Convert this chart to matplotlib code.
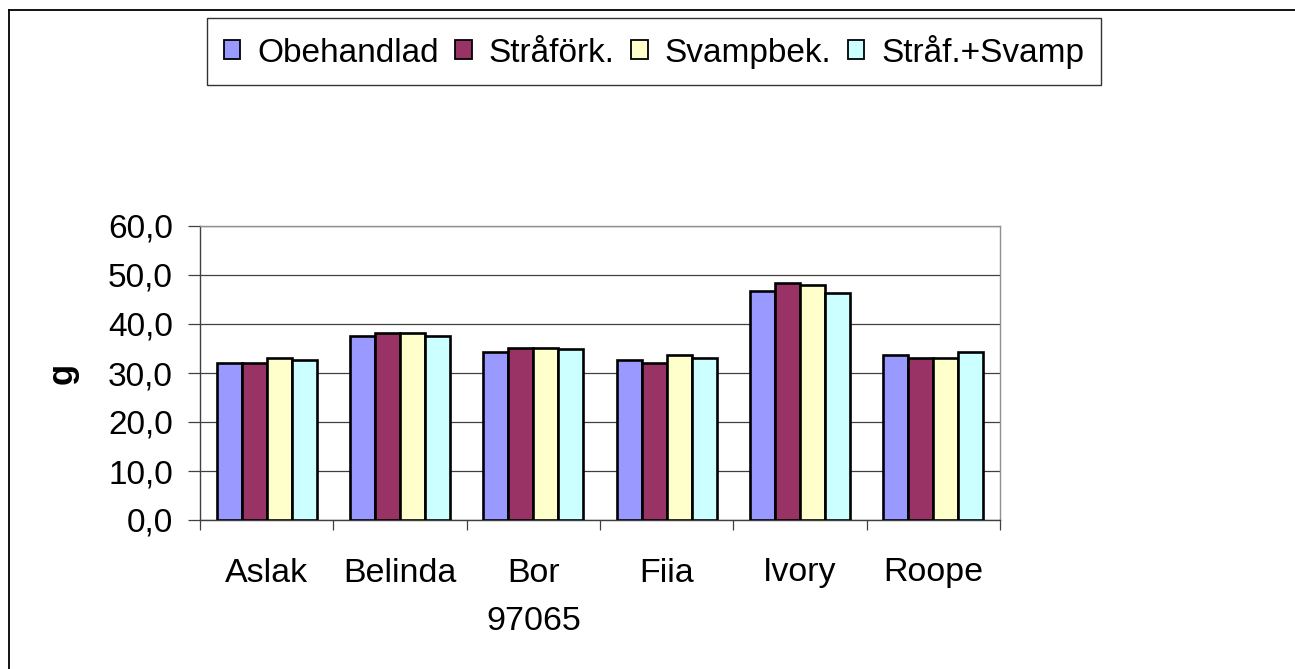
import numpy as np
import matplotlib
matplotlib.use("Agg")
import matplotlib.pyplot as plt
from matplotlib.lines import Line2D
from matplotlib.ticker import FuncFormatter, MultipleLocator

plt.rcParams["font.family"] = ["Liberation Sans", "DejaVu Sans"]

categories = ["Aslak", "Belinda", "Bor\n97065", "Fiia", "Ivory", "Roope"]
series_names = ["Obehandlad", "Stråförk.", "Svampbek.", "Stråf.+Svamp"]
obehandlad = [32.0, 37.5, 34.2, 32.7, 46.7, 33.6]
strafork = [32.0, 38.1, 35.2, 32.0, 48.4, 33.1]
svampbek = [33.1, 38.1, 35.2, 33.6, 47.9, 33.1]
straf_svamp = [32.7, 37.5, 34.8, 33.1, 46.3, 34.2]

colors = ["#9999FF", "#993366", "#FFFFCC", "#CCFFFF"]

W, H = 1295, 669
fig = plt.figure(figsize=(W / 100, H / 100), dpi=100)
ax = fig.add_axes([200 / W, 1 - 520 / H, 800 / W, 294 / H])

x = np.arange(len(categories))
bw = 0.1875
handles = []
for i, (vals, name) in enumerate(zip([obehandlad, strafork, svampbek, straf_svamp], series_names)):
    b = ax.bar(x + (i - 1.5) * bw, vals, bw, color=colors[i], edgecolor="black",
               linewidth=1.9, label=name, zorder=3)
    handles.append(b)

ax.set_xlim(-0.5, len(categories) - 0.5)
ax.set_ylim(0, 60)
ax.yaxis.set_major_locator(MultipleLocator(10))
ax.yaxis.set_major_formatter(FuncFormatter(lambda v, p: f"{v:.1f}".replace(".", ",")))
ax.grid(axis="y", color="#404040", linewidth=0.9, zorder=0)

ax.set_xticks(x)
ax.set_xticklabels(categories)
ax.set_xticks(np.arange(-0.5, len(categories), 1.0), minor=True)
ax.tick_params(axis="x", which="major", length=0, pad=27, labelsize=24.5)
ax.tick_params(axis="x", which="minor", length=7.5, width=0.9, color="#404040", direction="out")
ax.tick_params(axis="y", length=8.6, width=0.9, color="#404040", direction="out", pad=11, labelsize=24)
for lbl in ax.get_xticklabels():
    lbl.set_linespacing(1.75)

for s in ["left", "bottom"]:
    ax.spines[s].set_color("#404040")
    ax.spines[s].set_linewidth(1.0)
for s in ["right", "top"]:
    ax.spines[s].set_color("#909090")
    ax.spines[s].set_linewidth(1.0)

ax.set_ylabel("g", fontsize=25, fontweight="bold")
ax.yaxis.set_label_coords(-0.152, 0.5)

leg = fig.legend(handles=handles, loc="upper left", bbox_to_anchor=(207 / W, 1 - 18 / H),
                 ncol=4, fontsize=24, frameon=True, fancybox=False,
                 handlelength=0.5, handleheight=0.5, handletextpad=0.5,
                 columnspacing=0.5, borderpad=0.5, borderaxespad=0)
leg.get_frame().set_edgecolor("black")
leg.get_frame().set_linewidth(1.0)
for p in leg.get_patches():
    p.set_linewidth(1.3)

fig.add_artist(Line2D([9 / W, 9 / W], [0, 1 - 10 / H], color="black", linewidth=1.3))
fig.add_artist(Line2D([9 / W, 1], [1 - 10 / H, 1 - 10 / H], color="black", linewidth=1.3))

fig.savefig("out.png", dpi=100)
